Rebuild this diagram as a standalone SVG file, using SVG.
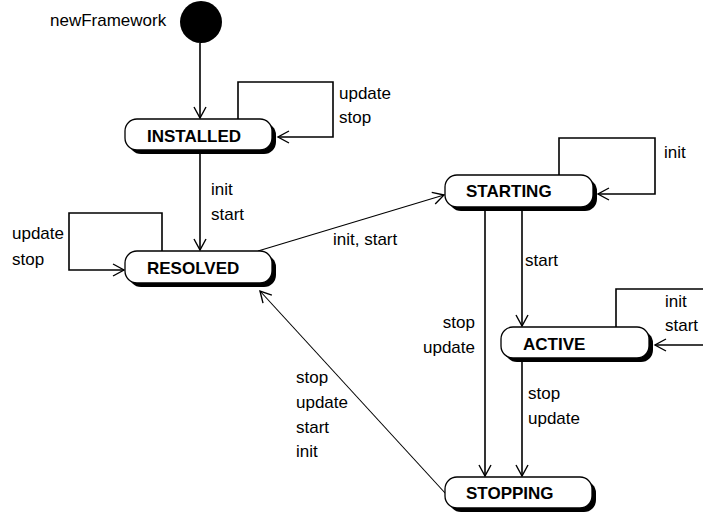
<svg xmlns="http://www.w3.org/2000/svg" width="703" height="517" viewBox="0 0 703 517">
<defs>
<style>
.lbl{font-family:"Liberation Sans","DejaVu Sans",sans-serif;font-size:17px;fill:#000}
.name{font-family:"Liberation Sans","DejaVu Sans",sans-serif;font-size:17px;font-weight:bold;fill:#000}
.sh{fill:#000}
.box{fill:#fff;stroke:#000;stroke-width:1.3}
.c{fill:none;stroke:#000;stroke-width:1.6}
.t{fill:none;stroke:#000;stroke-width:1.1}
</style>
<marker id="arr" markerWidth="14" markerHeight="14" refX="12" refY="7" orient="auto" markerUnits="userSpaceOnUse">
<path d="M1,1 L12,7 L1,13" fill="none" stroke="#000" stroke-width="1.4"/>
</marker>
</defs>
<rect width="703" height="517" fill="#fff"/>
<g id="connectors">
<path class="c" d="M200,43 V118" marker-end="url(#arr)"/>
<path class="c" d="M238,119 V82 H333 V137 H278" marker-end="url(#arr)"/>
<path class="c" d="M200,154 V250" marker-end="url(#arr)"/>
<path class="c" d="M162,251 V213 H69 V270 H124" marker-end="url(#arr)"/>
<path class="t" d="M258,251 L444,195" marker-end="url(#arr)"/>
<path class="c" d="M559,175 V138 H655 V194 H598" marker-end="url(#arr)"/>
<path class="c" d="M522,208 V326" marker-end="url(#arr)"/>
<path class="c" d="M485,208 V476" marker-end="url(#arr)"/>
<path class="c" d="M616,327 V289 H705 V345 H655" marker-end="url(#arr)"/>
<path class="c" d="M522,358 V476" marker-end="url(#arr)"/>
<path class="t" d="M446,494 L260,291" marker-end="url(#arr)"/>
</g>
<g id="start">
<circle cx="201" cy="22" r="21" fill="#000"/>
<text class="lbl" x="50" y="26">newFramework</text>
</g>
<g id="installed">
<rect class="sh" x="129" y="123" width="147" height="31" rx="12"/>
<rect class="box" x="125" y="119" width="147" height="31" rx="12"/>
<text class="name" x="147" y="142">INSTALLED</text>
</g>
<g id="resolved">
<rect class="sh" x="129" y="255" width="147" height="32" rx="12"/>
<rect class="box" x="125" y="251" width="147" height="32" rx="12"/>
<text class="name" x="147" y="274">RESOLVED</text>
</g>
<g id="starting">
<rect class="sh" x="449" y="179" width="148" height="32" rx="12"/>
<rect class="box" x="445" y="175" width="148" height="32" rx="12"/>
<text class="name" x="466" y="197">STARTING</text>
</g>
<g id="active">
<rect class="sh" x="505" y="331" width="148" height="31" rx="12"/>
<rect class="box" x="501" y="327" width="148" height="31" rx="12"/>
<text class="name" x="523" y="350">ACTIVE</text>
</g>
<g id="stopping">
<rect class="sh" x="449" y="481" width="147" height="31" rx="12"/>
<rect class="box" x="445" y="477" width="147" height="31" rx="12"/>
<text class="name" x="466" y="499">STOPPING</text>
</g>
<g id="labels">
<text class="lbl" x="339" y="99">update</text>
<text class="lbl" x="339" y="123">stop</text>
<text class="lbl" x="211" y="195">init</text>
<text class="lbl" x="211" y="220">start</text>
<text class="lbl" x="12" y="239">update</text>
<text class="lbl" x="12" y="265">stop</text>
<text class="lbl" x="333" y="245">init, start</text>
<text class="lbl" x="664" y="158">init</text>
<text class="lbl" x="525" y="266">start</text>
<text class="lbl" x="475" y="328" text-anchor="end">stop</text>
<text class="lbl" x="475" y="353" text-anchor="end">update</text>
<text class="lbl" x="665" y="307">init</text>
<text class="lbl" x="665" y="331">start</text>
<text class="lbl" x="528" y="399">stop</text>
<text class="lbl" x="528" y="424">update</text>
<text class="lbl" x="296" y="383">stop</text>
<text class="lbl" x="296" y="408">update</text>
<text class="lbl" x="296" y="433">start</text>
<text class="lbl" x="296" y="457">init</text>
</g>
</svg>
